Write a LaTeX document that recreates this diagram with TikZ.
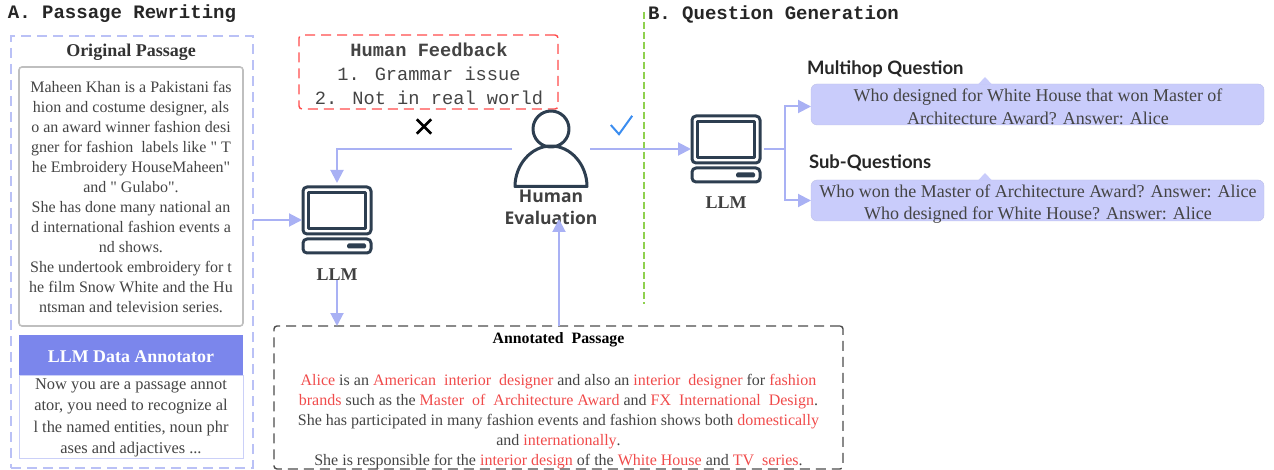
\documentclass[tikz,border=0pt]{standalone}
\usepackage{fontspec}
\setmainfont{Liberation Serif}
\newfontfamily\qfont{Liberation Serif}
\newfontfamily\monof{Liberation Mono}
\newfontfamily\humanf{Open Sans}
\newfontfamily\comicf{Lato}
\usetikzlibrary{arrows.meta}
\definecolor{flow}{HTML}{A9B1F4}
\definecolor{ink}{HTML}{444444}
\definecolor{icon}{HTML}{2D3E50}
\definecolor{redt}{HTML}{F04B4B}
\definecolor{qfill}{HTML}{C9CCFB}
\definecolor{annblue}{HTML}{7B86EC}
\definecolor{okblue}{HTML}{3B8DF0}
\definecolor{divgreen}{HTML}{8FD14F}
\newcommand{\rd}[1]{\textcolor{redt}{#1}}
\newcommand{\qq}{{\qfont"}}
\newcommand{\fsz}[2]{\fontsize{#1}{#2}\selectfont}
\tikzset{
  x=1pt,y=-1pt,
  flowline/.style={draw=flow,line width=2pt,-{Triangle[length=13pt,width=13pt]}},
  txt/.style={inner sep=0pt,outer sep=0pt,text=ink,align=center},
  heading/.style={txt,font=\monof\bfseries\fsz{19}{22},text=black!85},
  icoline/.style={draw=icon,line width=3pt,line join=round},
  iconbox/.style={minimum width=70pt,minimum height=68pt,inner sep=0pt,outer sep=0pt},
  qbox/.style={draw=qfill!85!gray,line width=.4pt,fill=qfill,rounded corners=6pt,minimum width=453pt,minimum height=41pt,inner sep=0pt,outer sep=0pt},
  qhead/.style={txt,font=\comicf\bfseries\fsz{18.5}{20},text=black!85},
  dashbox/.style={rounded corners=3pt,inner sep=0pt,outer sep=0pt,line width=1.4pt,dash pattern=on 10pt off 6pt},
}
\begin{document}
\begin{tikzpicture}
\useasboundingbox (0,0) rectangle (1274,470);
% headings
\node[heading,anchor=west] (ha) at (8,14) {A. Passage Rewriting};
\node[heading,anchor=west] (hb) at (648,14) {B. Question Generation};
% left group
\node[dashbox,draw=flow!80,line width=1.8pt,rounded corners=0pt,minimum width=242pt,minimum height=432pt] (group) at (132,252) {};
\node[txt,font=\bfseries\fsz{18}{20},text=black!80] (otitle) at (131,52.5) {Original Passage};
\node[draw=black!25,line width=1.6pt,rounded corners=3pt,minimum width=224pt,minimum height=259pt,inner sep=0pt,outer sep=0pt] (orig) at (131,196.5) {};
\node[txt,font=\fsz{16}{20}] (otext) at (131,197) {Maheen Khan is a Pakistani fas\\hion and costume designer, als\\o an award winner fashion desi\\gner for fashion\ \ labels like \qq{} T\\he Embroidery HouseMaheen\qq\\and \qq{} Gulabo\qq.\\She has done many national an\\d international fashion events a\\nd shows.\\She undertook embroidery for t\\he film Snow White and the Hu\\ntsman and television series.};
\node[draw=flow!60,line width=1pt,minimum width=224pt,minimum height=83pt,inner sep=0pt,outer sep=0pt] (annbody) at (131,416.5) {};
\node[fill=annblue,minimum width=224pt,minimum height=40pt,inner sep=0pt,outer sep=0pt] (annhead) at (131,355) {};
\node[txt,font=\bfseries\fsz{17.9}{20},text=white] (anntitle) at (131,356.5) {LLM Data Annotator};
\node[txt,font=\fsz{16.4}{21.4}] (anntext) at (131,418) {Now you are a passage annot\\ator, you need to recognize al\\l the named entities, noun phr\\ases and adjactives ...};
% feedback
\node[dashbox,draw=red!70!white,minimum width=259pt,minimum height=74pt] (fb) at (428.5,72) {};
\node[txt,font=\monof\fsz{18.7}{24}] (fbtext) at (429,74) {{\bfseries Human Feedback}\\1. Grammar issue\\2. Not in real world};
% mark symbols
\node[minimum size=14pt,inner sep=0pt] (cross) at (424,126.5) {};
\draw[black,line width=2.6pt] (cross.north west) -- (cross.south east) (cross.north east) -- (cross.south west);
\node[minimum width=21pt,minimum height=18pt,inner sep=0pt] (tick) at (621.5,125) {};
\draw[draw=okblue,line width=2pt] (tick.west) -- ([xshift=-2.5pt]tick.south) -- (tick.north east);
% person
\node[minimum width=78pt,minimum height=80pt,inner sep=0pt,outer sep=0pt] (person) at (551,149) {};
\draw[icoline] (551,129) circle[radius=18];
\draw[icoline] (515,186.5) .. controls (515,165) and (531,146) .. (551,146) .. controls (571,146) and (587,165) .. (587,186.5) -- cycle;
\node[txt,font=\humanf\bfseries\fsz{17.5}{22},text=black!75] (evallabel) at (551,207) {Human\\Evaluation};
% laptops
\node[iconbox] (lapa) at (337,220) {};
\node[iconbox] (lapb) at (726,149) {};
\foreach \n in {lapa,lapb}{
  \begin{scope}[shift={(\n.north west)}]
    \draw[icoline,rounded corners=4pt] (1,1) rectangle (69,48);
    \draw[icoline] (6.5,6.5) rectangle (63.5,42.5);
    \draw[icoline,rounded corners=4pt] (1,53) rectangle (69,67);
    \fill[icon,rounded corners=1.5pt] (45,57.5) rectangle (64,62.5);
  \end{scope}
}
\node[txt,font=\bfseries\fsz{18}{20},text=black!75] (llma) at (337,274.5) {LLM};
\node[txt,font=\bfseries\fsz{18}{20},text=black!75] (llmb) at (726,203) {LLM};
% annotated
\node[dashbox,draw=black!70,minimum width=569pt,minimum height=143pt] (annot) at (558.5,397.5) {};
\node[txt,font=\bfseries\fsz{15.8}{16},text=black] (antitle) at (558.5,340) {Annotated\ \ Passage};
\node[txt,font=\fsz{16}{19.9}] (antext) at (558.5,421.5) {\rd{Alice} is an \rd{American\ \ interior\ \ designer} and also an \rd{interior\ \ designer} for \rd{fashion}\\\rd{brands} such as the \rd{Master\ \ of\ \ Architecture Award} and \rd{FX\ \ International\ \ Design}.\\She has participated in many fashion events and fashion shows both \rd{domestically}\\and \rd{internationally}.\\She is responsible for the \rd{interior design} of the \rd{White House} and \rd{TV\ \ series}.};
% questions
\node[qhead,anchor=west] (q1h) at (807,69) {Multihop Question};
\node[qhead,anchor=west] (q2h) at (809,163) {Sub-Questions};
\node[qbox] (q1) at (1037.5,104.5) {};
\node[qbox] (q2) at (1037.5,200.5) {};
\fill[qfill] (978,84.5) -- (985,77) -- (992,84.5) -- cycle;
\fill[qfill] (978,180.5) -- (985,173) -- (992,180.5) -- cycle;
\node[txt,font=\fsz{18}{22.5}] (q1t) at (1038,107) {Who designed for White House that won Master of\\Architecture Award? Answer: Alice};
\node[txt,font=\fsz{18}{22.5}] (q2t) at (1038,204) {Who won the Master of Architecture Award? Answer: Alice\\Who designed for White House? Answer: Alice};
% divider
\coordinate (dtop) at (644,12);
\coordinate (dbot) at (644,304);
\draw[draw=divgreen,line width=1.8pt,dash pattern=on 7pt off 3pt] (dtop) -- (dbot);
% connectors
\coordinate (branch) at (785,149);
\coordinate (evalin) at (559,219);
\draw[flowline] (group.east |- lapa.west) -- (lapa.west);
\draw[flowline,shorten >=3pt] (person.west) -| (lapa.north);
\draw[flowline] (person.east) -- (lapb.west);
\draw[flowline] (llma.south) -- (llma.south |- annot.north);
\draw[flowline] (annot.north -| evalin) -- (evalin);
\draw[draw=flow,line width=2pt] ([xshift=3pt]lapb.east) -- (branch);
\draw[flowline] (branch) |- ([yshift=-2pt]q1.west);
\draw[flowline] (branch) |- (q2.west);
\end{tikzpicture}
\end{document}
